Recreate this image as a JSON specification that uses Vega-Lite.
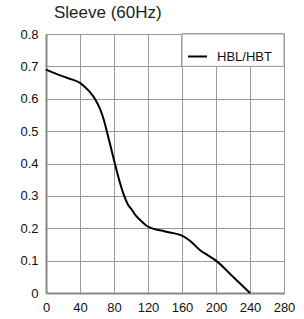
{
  "$schema": "https://vega.github.io/schema/vega-lite/v6.json",
  "width": 238,
  "height": 259,
  "autosize": {"type": "none"},
  "padding": {"left": 46, "top": 34, "right": 20, "bottom": 26},
  "background": "white",
  "title": {
    "text": "Sleeve (60Hz)",
    "anchor": "start",
    "frame": "group",
    "dx": 8,
    "offset": 6,
    "font": "Liberation Sans",
    "fontSize": 17,
    "fontWeight": "normal",
    "color": "#222222"
  },
  "config": {
    "view": {"stroke": "#999999", "strokeWidth": 1},
    "axis": {
      "grid": true,
      "labelFont": "Liberation Sans",
      "labelFontSize": 13,
      "labelColor": "#111111",
      "labelOverlap": false,
      "gridColor": "#9a9a9a",
      "gridWidth": 1,
      "gridOpacity": 1,
      "domainColor": "#888888",
      "domainWidth": 2,
      "ticks": false,
      "title": null
    }
  },
  "data": {
    "values": [
      {"x": 0, "y": 0.69, "s": "HBL/HBT"},
      {"x": 10, "y": 0.679, "s": "HBL/HBT"},
      {"x": 20, "y": 0.669, "s": "HBL/HBT"},
      {"x": 30, "y": 0.66, "s": "HBL/HBT"},
      {"x": 40, "y": 0.649, "s": "HBL/HBT"},
      {"x": 45, "y": 0.638, "s": "HBL/HBT"},
      {"x": 52, "y": 0.62, "s": "HBL/HBT"},
      {"x": 58, "y": 0.598, "s": "HBL/HBT"},
      {"x": 64, "y": 0.566, "s": "HBL/HBT"},
      {"x": 68, "y": 0.535, "s": "HBL/HBT"},
      {"x": 71, "y": 0.505, "s": "HBL/HBT"},
      {"x": 74, "y": 0.474, "s": "HBL/HBT"},
      {"x": 81, "y": 0.4, "s": "HBL/HBT"},
      {"x": 86, "y": 0.35, "s": "HBL/HBT"},
      {"x": 92, "y": 0.3, "s": "HBL/HBT"},
      {"x": 96, "y": 0.275, "s": "HBL/HBT"},
      {"x": 101, "y": 0.257, "s": "HBL/HBT"},
      {"x": 106, "y": 0.238, "s": "HBL/HBT"},
      {"x": 111, "y": 0.225, "s": "HBL/HBT"},
      {"x": 120, "y": 0.205, "s": "HBL/HBT"},
      {"x": 140, "y": 0.19, "s": "HBL/HBT"},
      {"x": 160, "y": 0.177, "s": "HBL/HBT"},
      {"x": 170, "y": 0.16, "s": "HBL/HBT"},
      {"x": 181, "y": 0.133, "s": "HBL/HBT"},
      {"x": 190, "y": 0.117, "s": "HBL/HBT"},
      {"x": 200, "y": 0.1, "s": "HBL/HBT"},
      {"x": 220, "y": 0.05, "s": "HBL/HBT"},
      {"x": 240, "y": 0.0, "s": "HBL/HBT"}
    ]
  },
  "layer": [
    {
      "mark": {"type": "line", "interpolate": "monotone", "strokeWidth": 2},
      "encoding": {
        "x": {
          "field": "x",
          "type": "quantitative",
          "scale": {"domain": [0, 280], "nice": false},
          "axis": {"grid": true, "values": [0, 40, 80, 120, 160, 200, 240, 280], "labelPadding": 8, "labelFlush": false}
        },
        "y": {
          "field": "y",
          "type": "quantitative",
          "scale": {"domain": [0, 0.8], "nice": false},
          "axis": {"grid": true, "values": [0, 0.1, 0.2, 0.3, 0.4, 0.5, 0.6, 0.7, 0.8], "format": "~g", "labelPadding": 8}
        },
        "color": {
          "field": "s",
          "type": "nominal",
          "scale": {"range": ["black"]},
          "legend": {
            "title": null,
            "orient": "top-right",
            "offset": 12,
            "padding": 0,
            "symbolType": "stroke",
            "symbolSize": 361,
            "symbolStrokeWidth": 2,
            "labelFont": "Liberation Sans",
            "labelFontSize": 13,
            "labelColor": "#111111",
            "labelOffset": 9
          }
        }
      }
    },
    {
      "mark": {"type": "rect", "fill": "white", "stroke": "#9a9a9a", "strokeWidth": 1},
      "encoding": {
        "x": {
          "datum": 160,
          "type": "quantitative",
          "axis": {"grid": true, "values": [0, 40, 80, 120, 160, 200, 240, 280], "labelPadding": 8, "labelFlush": false}
        },
        "x2": {"datum": 280},
        "y": {
          "datum": 0.8,
          "type": "quantitative",
          "axis": {"grid": true, "values": [0, 0.1, 0.2, 0.3, 0.4, 0.5, 0.6, 0.7, 0.8], "format": "~g", "labelPadding": 8}
        },
        "y2": {"datum": 0.7}
      }
    }
  ]
}
